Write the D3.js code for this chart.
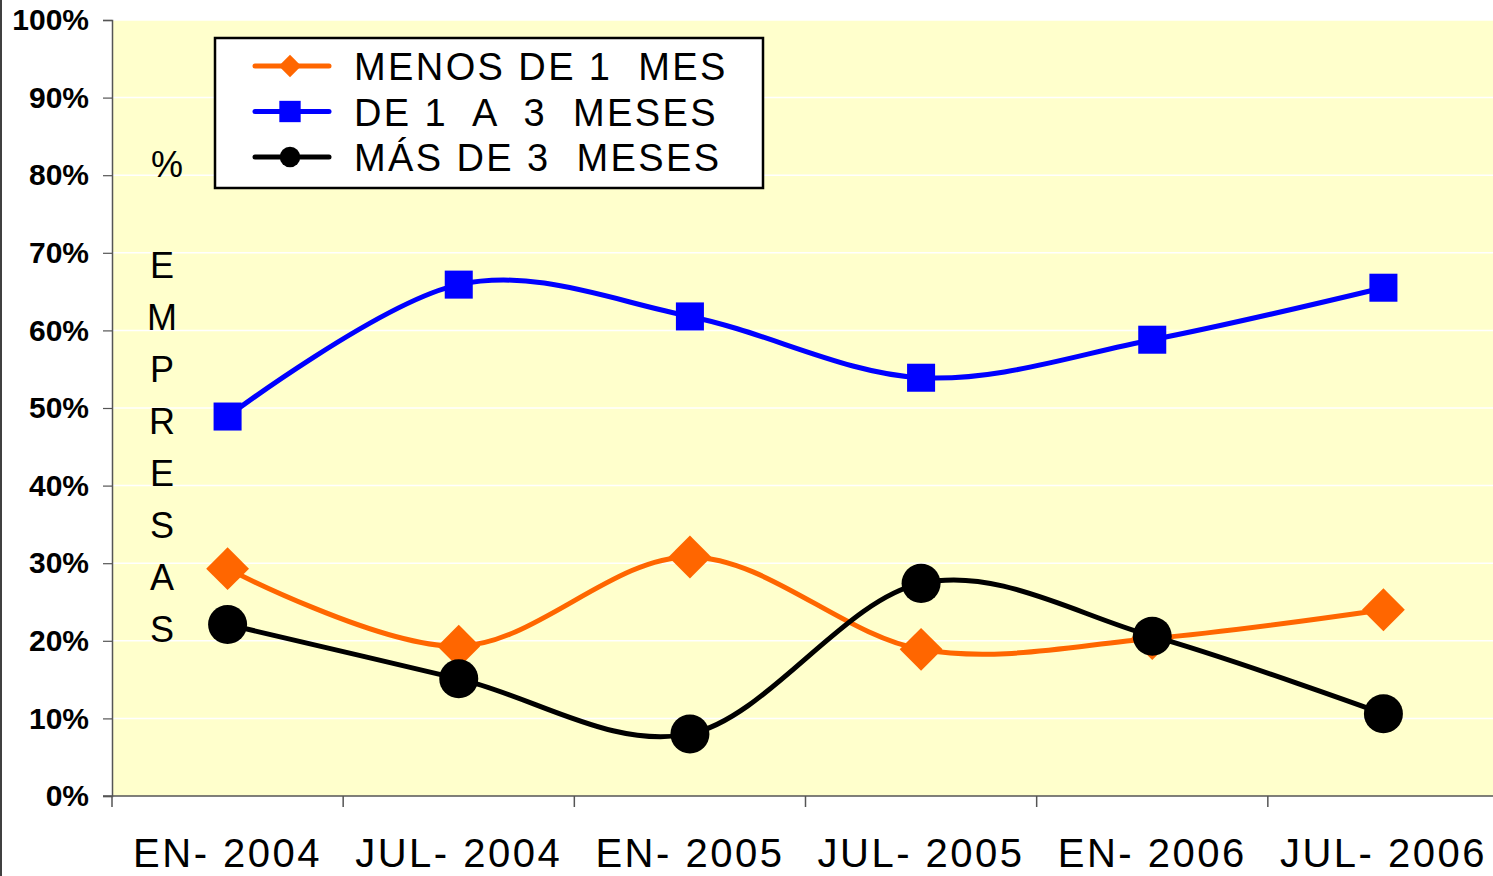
<!DOCTYPE html>
<html>
<head>
<meta charset="utf-8">
<script src="https://cdn.jsdelivr.net/npm/d3@7"></script>
<style>
  html, body { margin: 0; padding: 0; background: #fff; overflow: hidden; }
  svg { display: block; }
  text { font-family: "Liberation Sans", Arial, sans-serif; }
</style>
</head>
<body>
<div class="container"></div>
<script>
const categories = ["EN- 2004", "JUL- 2004", "EN- 2005", "JUL- 2005", "EN- 2006", "JUL- 2006"];
const menosDe1Mes = [29.3, 19.3, 30.8, 18.9, 20.3, 24.0];
const de1a3Meses = [48.9, 65.9, 61.8, 53.9, 58.8, 65.5];
const masDe3Meses = [22.1, 15.1, 8.0, 27.4, 20.6, 10.6];
const yTicks = [0, 10, 20, 30, 40, 50, 60, 70, 80, 90, 100];
const seriesNames = ["MENOS DE 1  MES", "DE 1  A  3  MESES", "MÁS DE 3  MESES"];
const sideLetters = ["E", "M", "P", "R", "E", "S", "A", "S"];

const width = 1493, height = 876;
// the plot runs a little past the right edge of the picture
const plot = { left: 112, right: 1499, top: 20, bottom: 796 };

const svg = d3.select(".container").append("svg")
  .attr("width", width).attr("height", height);

const x = d3.scaleBand().domain(categories).range([plot.left, plot.right]);
const y = d3.scaleLinear().domain([0, 100]).range([plot.bottom, plot.top]);

// outer frame line on left
svg.append("line").attr("x1", 1).attr("x2", 1).attr("y1", 0).attr("y2", height)
  .attr("stroke", "#000").attr("stroke-width", 1.5);

// plot background
svg.append("rect")
  .attr("x", plot.left).attr("y", plot.top)
  .attr("width", plot.right - plot.left).attr("height", plot.bottom - plot.top)
  .attr("fill", "#FFFFCC");

// gridlines
svg.append("g").selectAll("line").data(yTicks.slice(1)).join("line")
  .attr("x1", plot.left).attr("x2", plot.right)
  .attr("y1", d => y(d)).attr("y2", d => y(d))
  .attr("stroke", "#fff").attr("stroke-width", 1.5);

// y axis
const yAxis = svg.append("g")
  .attr("transform", `translate(${plot.left},0)`)
  .call(d3.axisLeft(y).tickValues(yTicks).tickSize(9).tickPadding(14).tickFormat(d => d + "%"));
yAxis.select(".domain").attr("stroke", "#555").attr("stroke-width", 1.5);
yAxis.selectAll(".tick line").attr("stroke", "#555").attr("stroke-width", 1.2);
yAxis.selectAll(".tick text")
  .attr("font-size", 30).attr("font-weight", "bold").attr("fill", "#000")
  .attr("font-family", "'Liberation Sans', Arial, sans-serif");

// x axis
const xAxis = svg.append("g")
  .attr("transform", `translate(0,${plot.bottom})`)
  .call(d3.axisBottom(x).tickSize(0).tickPadding(43));
xAxis.select(".domain").attr("stroke", "#555").attr("stroke-width", 1.5)
  .attr("d", `M${plot.left - 9},0H${plot.right}`);
xAxis.selectAll(".tick text")
  .attr("font-size", 40).attr("fill", "#000").attr("letter-spacing", 2.5)
  .attr("font-family", "'Liberation Sans', Arial, sans-serif");
const bounds = categories.map(c => x(c)).concat([plot.right]);
xAxis.append("g").selectAll("line").data(bounds).join("line")
  .attr("x1", d => d).attr("x2", d => d).attr("y1", 0).attr("y2", 11)
  .attr("stroke", "#555").attr("stroke-width", 1.5);

// side labels
svg.append("text").attr("x", 167).attr("y", 177).attr("text-anchor", "middle")
  .attr("font-size", 36).text("%");
svg.append("g").selectAll("text").data(sideLetters).join("text")
  .attr("x", 162).attr("y", (d, i) => 278 + i * 52).attr("text-anchor", "middle")
  .attr("font-size", 36).text(d => d);

// series
const series = [
  { name: seriesNames[0], values: menosDe1Mes, color: "#FF6600", symbol: d3.symbolDiamond2, size: 1170, lsize: 320 },
  { name: seriesNames[1], values: de1a3Meses, color: "#0000FF", symbol: d3.symbolSquare2, size: 1000, lsize: 580 },
  { name: seriesNames[2], values: masDe3Meses, color: "#000000", symbol: d3.symbolCircle, size: 1195, lsize: 330 }
];

const cx = c => x(c) + x.bandwidth() / 2;
const line = d3.line()
  .x((d, i) => cx(categories[i]))
  .y(d => y(d))
  .curve(d3.curveCardinal.tension(0));

series.forEach(s => {
  const g = svg.append("g");
  g.append("path").datum(s.values)
    .attr("d", line).attr("fill", "none")
    .attr("stroke", s.color).attr("stroke-width", 5)
    .attr("stroke-linejoin", "round");
  g.selectAll("path.mark").data(s.values).join("path")
    .attr("class", "mark")
    .attr("transform", (d, i) => `translate(${cx(categories[i])},${y(d)})`)
    .attr("d", d3.symbol().type(s.symbol).size(s.size)())
    .attr("fill", s.color);
});

// legend
const legend = svg.append("g");
legend.append("rect").attr("x", 215).attr("y", 38).attr("width", 548).attr("height", 150)
  .attr("fill", "#fff").attr("stroke", "#000").attr("stroke-width", 2.5);
series.forEach((s, i) => {
  const ly = 66 + i * 45.5;
  legend.append("line").attr("x1", 255).attr("x2", 329).attr("y1", ly).attr("y2", ly)
    .attr("stroke", s.color).attr("stroke-width", 5).attr("stroke-linecap", "round");
  legend.append("path").attr("transform", `translate(290,${ly})`)
    .attr("d", d3.symbol().type(s.symbol).size(s.lsize)()).attr("fill", s.color);
  legend.append("text").attr("x", 354).attr("y", ly + 14)
    .attr("font-size", 38).attr("letter-spacing", 2.4)
    .style("white-space", "pre").text(s.name);
});
</script>
</body>
</html>
